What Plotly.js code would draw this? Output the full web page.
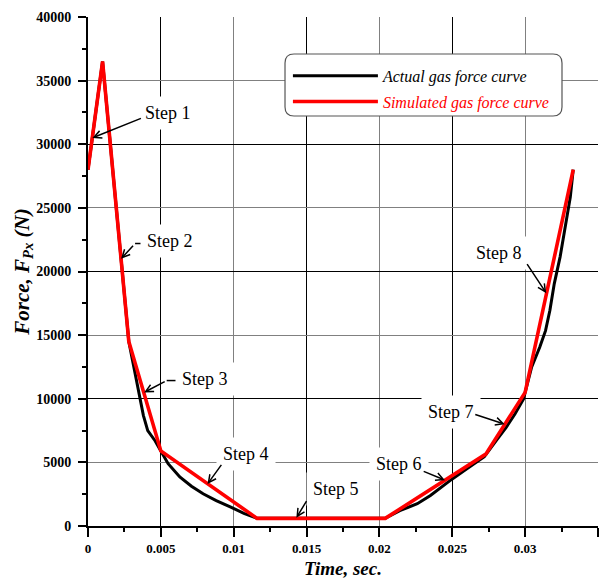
<!DOCTYPE html>
<html>
<head>
<meta charset="utf-8">
<script src="https://cdn.plot.ly/plotly-3.0.1.min.js"></script>
<style>
  html, body { margin: 0; padding: 0; background: #fff; }
  #chart { width: 610px; height: 583px; }
</style>
</head>
<body>
<div id="chart"></div>
<script>
// Simulated (piecewise-linear) gas force curve, time in seconds, force in N
const simTime  = [0, 0.001, 0.0028, 0.005, 0.0116, 0.0204, 0.0273, 0.030, 0.0333];
const simForce = [28000, 36500, 14500, 5900, 600, 600, 5650, 10500, 28000];

// Measured (actual) gas force curve
const actualTime  = [0, 0.001, 0.0028, 0.0032, 0.0036, 0.0038, 0.0041, 0.0046, 0.005,
                     0.0055, 0.0063, 0.0071, 0.0079, 0.0088, 0.0098, 0.0107, 0.0116,
                     0.0204, 0.0214, 0.0226, 0.0235, 0.0244, 0.025, 0.026, 0.0272,
                     0.028, 0.0287, 0.0293, 0.0299, 0.030, 0.03045, 0.031, 0.0314,
                     0.0317, 0.032, 0.0324, 0.0327, 0.0331, 0.0333];
const actualForce = [28000, 36500, 14500, 12200, 10100, 8700, 7500, 6700, 5900,
                     4900, 3850, 3130, 2530, 2000, 1480, 1000, 600,
                     600, 1200, 1750, 2400, 3200, 3700, 4500, 5450,
                     6700, 7750, 8800, 10000, 10500, 12500, 14050, 15350,
                     16950, 19050, 21150, 23250, 25850, 28000];

// Tick labels
const xTickVals = [0, 0.005, 0.01, 0.015, 0.02, 0.025, 0.03, 0.035];
const xTickText = ['0', '0.005', '0.01', '0.015', '0.02', '0.025', '0.03', '0.035'];
const yTickVals = [0, 5000, 10000, 15000, 20000, 25000, 30000, 35000, 40000];
const yTickText = ['0', '5000', '10000', '15000', '20000', '25000', '30000', '35000', '40000'];

// Step labels: text position, leader line and the point on the curve each arrow marks
const stepNames = ['Step 1', 'Step 2', 'Step 3', 'Step 4', 'Step 5', 'Step 6', 'Step 7', 'Step 8'];
const stepLabelTime  = [0.00549, 0.00563, 0.00806, 0.01084, 0.01701, 0.02134, 0.0249, 0.02819];
const stepLabelForce = [32420, 22435, 11570, 5674, 2923, 4888, 8943, 21438];
const leaderFromTime = [0.00377, 0.00391, 0.00643, 0.01043, 0.01672, 0.02198, 0.02553, 0.02885];
const stepTailTime   = [0.00377, 0.00323, 0.0054, 0.00929, 0.01512, 0.0229, 0.02644, 0.0300];
const stepTailForce  = [32100, 22200, 11430, 5015, 2185, 4360, 8820, 20810];
const stepHeadTime   = [0.0003, 0.00227, 0.00385, 0.0082, 0.0143, 0.0245, 0.0286, 0.03145];
const stepHeadForce  = [30500, 21000, 10500, 3300, 650, 3600, 8000, 18300];

const serif = 'Liberation Serif';

const traces = [
  {
    x: actualTime, y: actualForce, type: 'scatter', mode: 'lines',
    name: 'Actual gas force curve', legendgroup: 'a',
    line: { color: '#000000', width: 3 }
  },
  {
    x: simTime, y: simForce, type: 'scatter', mode: 'lines',
    name: '<span style="color:#ff0000">Simulated gas force curve</span>', legendgroup: 'b',
    line: { color: '#ff0000', width: 3.6 }
  },
  // carrier for the overlay axes that draw the second grid colour
  { x: [], y: [], xaxis: 'x2', yaxis: 'y2', showlegend: false, hoverinfo: 'skip' }
];

const annotations = [];
stepNames.forEach((s, i) => {
  annotations.push({
    x: stepLabelTime[i], y: stepLabelForce[i], xref: 'x', yref: 'y',
    text: s, showarrow: false, bgcolor: '#ffffff', borderpad: 6,
    font: { family: serif, size: 18, color: '#000' }
  });
});
stepNames.forEach((s, i) => {
  annotations.push({
    x: stepHeadTime[i], y: stepHeadForce[i], xref: 'x', yref: 'y',
    ax: stepTailTime[i], ay: stepTailForce[i], axref: 'x', ayref: 'y',
    text: ' ', showarrow: true, arrowhead: 5, arrowsize: 1, arrowwidth: 1.5,
    arrowcolor: '#000', font: { size: 2 }
  });
});

// short horizontal leaders under the step labels
const leaderShapes = stepNames.map((s, i) => ({
  type: 'line', xref: 'x', yref: 'y',
  x0: leaderFromTime[i], x1: stepTailTime[i], y0: stepTailForce[i], y1: stepTailForce[i],
  line: { color: '#000', width: 1.5 }, layer: 'above'
}));

// rounded frame behind the legend (paper coordinates)
const bx0 = 0.3863, bx1 = 0.9294, by0 = 0.8055, by1 = 0.9273, rx = 0.0176, ry = 0.0177;
const legendFrame = `M${bx0 + rx},${by1} L${bx1 - rx},${by1} Q${bx1},${by1} ${bx1},${by1 - ry} ` +
  `L${bx1},${by0 + ry} Q${bx1},${by0} ${bx1 - rx},${by0} L${bx0 + rx},${by0} ` +
  `Q${bx0},${by0} ${bx0},${by0 + ry} L${bx0},${by1 - ry} Q${bx0},${by1} ${bx0 + rx},${by1} Z`;

const layout = {
  width: 610, height: 583,
  margin: { l: 88, r: 12, t: 17, b: 57, pad: 0 },
  paper_bgcolor: '#ffffff', plot_bgcolor: '#ffffff',
  showlegend: true,
  legend: {
    x: 0.392, y: 0.918, xanchor: 'left', yanchor: 'top',
    bgcolor: 'rgba(0,0,0,0)', borderwidth: 0,
    font: { family: serif, size: 16, style: 'italic', color: '#000' },
    itemwidth: 85, tracegroupgap: 2
  },
  xaxis: {
    range: [0, 0.035], tickvals: xTickVals, ticktext: xTickText,
    showgrid: true, gridcolor: '#000000', gridwidth: 1,
    zeroline: false, showline: true, linecolor: '#000', linewidth: 2,
    ticks: 'outside', ticklen: 9, tickwidth: 2, tickcolor: '#000',
    minor: { dtick: 0.0025, ticks: 'outside', ticklen: 4, tickwidth: 2, tickcolor: '#000', showgrid: false },
    tickfont: { family: serif, size: 13, weight: 'bold', color: '#000' },
    title: { text: 'Time, sec.', font: { family: serif, size: 19, weight: 'bold', style: 'italic', color: '#000' }, standoff: 7 }
  },
  yaxis: {
    range: [0, 40000], tickvals: yTickVals, ticktext: yTickText,
    showgrid: true, gridcolor: '#808080', gridwidth: 1.2,
    zeroline: false, showline: true, linecolor: '#000', linewidth: 2,
    ticks: 'outside', ticklen: 8, tickwidth: 2, tickcolor: '#000',
    minor: { dtick: 2500, ticks: 'outside', ticklen: 4, tickwidth: 2, tickcolor: '#000', showgrid: false },
    tickfont: { family: serif, size: 14, weight: 'bold', color: '#000' },
    ticklabelstandoff: 4,
    title: { text: 'Force, F<sub>Px</sub> (N)', font: { family: serif, size: 21, weight: 'bold', style: 'italic', color: '#000' }, standoff: 0 }
  },
  // overlay axes: grey grid at 0.01 s steps, black grid at 10000 N steps
  xaxis2: {
    overlaying: 'x', range: [0, 0.035], tick0: 0, dtick: 0.01,
    showgrid: true, gridcolor: '#808080', gridwidth: 1.2,
    showticklabels: false, ticks: '', zeroline: false, showline: false
  },
  yaxis2: {
    overlaying: 'y', range: [0, 40000], tick0: 0, dtick: 10000,
    showgrid: true, gridcolor: '#000000', gridwidth: 1,
    showticklabels: false, ticks: '', zeroline: false, showline: false
  },
  shapes: [{
    type: 'path', xref: 'paper', yref: 'paper', path: legendFrame,
    fillcolor: '#ffffff', line: { color: '#555555', width: 1.2 }, layer: 'above'
  }].concat(leaderShapes),
  annotations: annotations
};

Plotly.newPlot('chart', traces, layout, { staticPlot: true, displayModeBar: false });
</script>
</body>
</html>
